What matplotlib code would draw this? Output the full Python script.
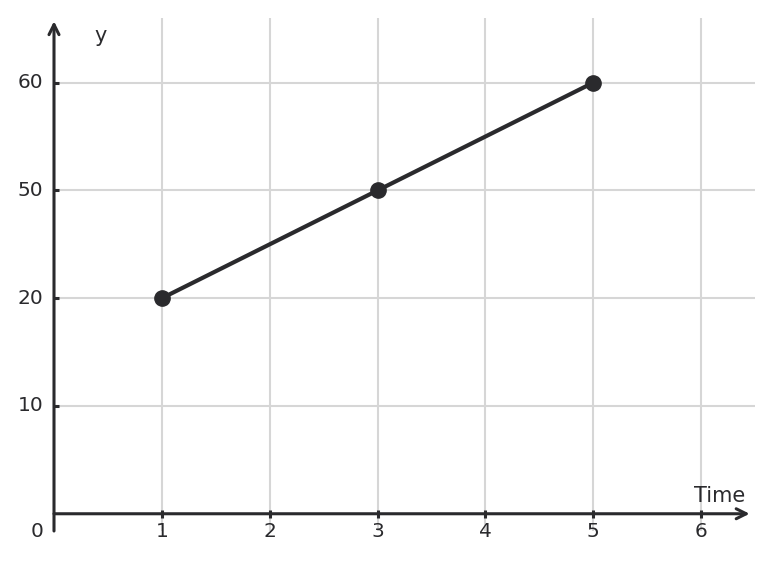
import matplotlib.pyplot as plt
import numpy as np

# data
time_vals = [1, 3, 5]
y_vals = [20, 50, 60]
y_tick_labels = ['10', '20', '50', '60']
x_ticks = [1, 2, 3, 4, 5, 6]

ink = '#2a2a2d'
grid_col = '#d6d6d6'
fs = 14.5

fig = plt.figure(figsize=(7.72, 5.62), dpi=100)
ax = fig.add_axes([54 / 772, 31 / 562, 701 / 772, 513 / 562])
ax.set_xlim(0, 6.5)
ax.set_ylim(-0.16, 4.6)

for s in ax.spines.values():
    s.set_visible(False)

# y values sit on evenly spaced category positions
y_pos = [y_tick_labels.index(str(v)) + 1 for v in y_vals]
y_tick_pos = np.arange(1, len(y_tick_labels) + 1)

for xv in x_ticks:
    ax.axvline(xv, color=grid_col, lw=1.5, zorder=0)
for yv in y_tick_pos:
    ax.axhline(yv, color=grid_col, lw=1.5, zorder=0)

ax.set_xticks([])
ax.set_yticks([])

# axes with arrows
ax.annotate('', xy=(6.45, 0), xytext=(0, 0),
            arrowprops=dict(arrowstyle='->', color=ink, lw=2.2,
                            mutation_scale=18, shrinkA=0, shrinkB=0))
ax.annotate('', xy=(0, 4.57), xytext=(0, -0.16),
            arrowprops=dict(arrowstyle='->', color=ink, lw=2.2,
                            mutation_scale=18, shrinkA=0, shrinkB=0))

# tick marks and labels
for xv in x_ticks:
    ax.plot([xv, xv], [-0.035, 0.035], color=ink, lw=2.2, solid_capstyle='butt')
    ax.text(xv, -0.08, str(xv), ha='center', va='top', fontsize=fs, color=ink)
for yp, lab in zip(y_tick_pos, y_tick_labels):
    ax.plot([0, 0.05], [yp, yp], color=ink, lw=2.2, solid_capstyle='butt')
    ax.text(-0.1, yp, lab, ha='right', va='center', fontsize=fs, color=ink)
ax.text(-0.1, -0.08, '0', ha='right', va='top', fontsize=fs, color=ink)

ax.text(0.43, 4.43, 'y', ha='center', va='center', fontsize=fs + 0.5, color=ink)
ax.text(6.17, 0.11, 'Time', ha='center', va='baseline', fontsize=fs + 0.5, color=ink)

ax.plot(time_vals, y_pos, color=ink, lw=3, marker='o', markersize=11, zorder=5)

fig.savefig('out.png', dpi=100)
